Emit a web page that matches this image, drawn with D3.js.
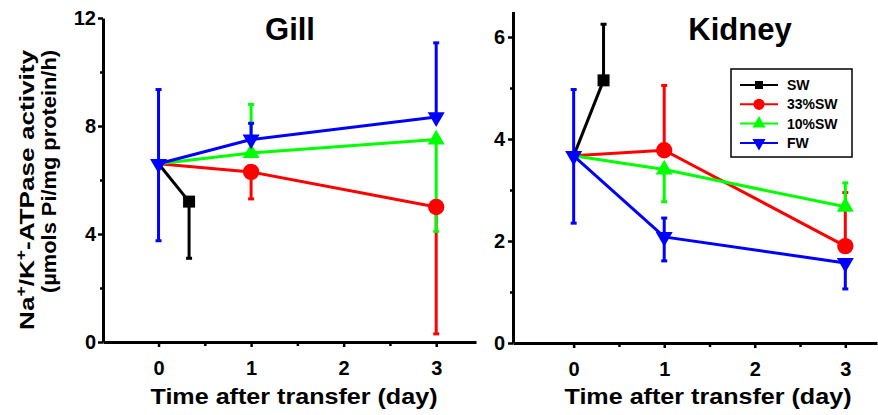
<!DOCTYPE html>
<html>
<head>
<meta charset="utf-8">
<script src="https://cdn.jsdelivr.net/npm/d3@7"></script>
<style>
  html, body { margin: 0; padding: 0; background: #fff; }
  svg { display: block; }
</style>
</head>
<body>
<svg id="chart" width="878" height="415"></svg>
<script>
// ---------- data ----------
const days = [0, 1, 3];
const swDays = [0, 0.33];
const xTickValues = [0, 1, 2, 3];
const xMinorTicks = [0.5, 1.5, 2.5];
const gillYTicks = [0, 4, 8, 12];
const gillYMinor = [2, 6, 10];
const kidneyYTicks = [0, 2, 4, 6];
const kidneyYMinor = [1, 3, 5];

const seriesNames = ["SW", "33%SW", "10%SW", "FW"];
const seriesColors = ["#000000", "#ff0000", "#00ff00", "#0000ff"];

// Gill
const gillSW = [6.6, 5.2];
const gillSWErrUp = [null, null];
const gillSWErrDown = [null, 2.1];
const gill33 = [6.6, 6.3, 5.0];
const gill33ErrUp = [null, null, null];
const gill33ErrDown = [null, 1.0, 4.7];
const gill10 = [6.6, 7.0, 7.5];
const gill10ErrUp = [null, 1.8, null];
const gill10ErrDown = [null, null, 3.4];
const gillFW = [6.6, 7.5, 8.33];
const gillFWErrUp = [2.75, 0.6, 2.75];
const gillFWErrDown = [2.85, null, null];

// Kidney
const kidneySW = [3.67, 5.15];
const kidneySWErrUp = [null, 1.1];
const kidneySWErrDown = [null, null];
const kidney33 = [3.67, 3.78, 1.9];
const kidney33ErrUp = [null, 1.27, 1.05];
const kidney33ErrDown = [null, null, null];
const kidney10 = [3.67, 3.4, 2.67];
const kidney10ErrUp = [null, null, 0.47];
const kidney10ErrDown = [null, 0.63, null];
const kidneyFW = [3.67, 2.08, 1.57];
const kidneyFWErrUp = [1.3, 0.37, null];
const kidneyFWErrDown = [1.32, 0.47, 0.51];

// ---------- drawing ----------
const svg = d3.select("#chart");
const tickFont = "'Liberation Sans', Arial, sans-serif";

const symbols = [
  {type: d3.symbolSquare, size: 144, rot: 0},
  {type: d3.symbolCircle, size: 210, rot: 0},
  {type: d3.symbolTriangle, size: 125, rot: 0},
  {type: d3.symbolTriangle, size: 125, rot: 180}
];

function buildSeries(xsList, ys, ups, downs) {
  return ys.map((ys_, i) => ({
    color: seriesColors[i],
    sym: symbols[i],
    pts: ys_.map((v, j) => ({x: xsList[i][j], y: v, up: ups[i][j], down: downs[i][j]}))
  }));
}

function panel(cfg) {
  const g = svg.append("g");
  const x = d3.scaleLinear().domain(cfg.xDomain).range(cfg.xRange);
  const y = d3.scaleLinear().domain(cfg.yDomain).range(cfg.yRange);

  // minor ticks
  g.append("g").attr("transform", `translate(0,${cfg.yRange[0]})`)
    .call(d3.axisBottom(x).tickValues(xMinorTicks).tickSize(4).tickFormat(""))
    .call(a => a.select(".domain").remove())
    .call(a => a.selectAll("line").attr("stroke-width", 2.5));
  g.append("g").attr("transform", `translate(${cfg.xRange[0]},0)`)
    .call(d3.axisLeft(y).tickValues(cfg.yMinor).tickSize(3).tickFormat(""))
    .call(a => a.select(".domain").remove())
    .call(a => a.selectAll("line").attr("stroke-width", 2.5));

  // x axis
  const xa = g.append("g").attr("transform", `translate(0,${cfg.yRange[0]})`)
    .call(d3.axisBottom(x).tickValues(xTickValues).tickSize(5).tickSizeOuter(0).tickPadding(14).tickFormat(d3.format("d")));
  xa.select(".domain").attr("stroke-width", 3);
  xa.selectAll("line").attr("stroke-width", 2.5);
  xa.selectAll("text").attr("font-family", tickFont).attr("font-weight", "bold").attr("font-size", 20).attr("fill", "#000");

  // y axis
  const ya = g.append("g").attr("transform", `translate(${cfg.xRange[0]},0)`)
    .call(d3.axisLeft(y).tickValues(cfg.yTicks).tickSize(5).tickSizeOuter(0).tickPadding(cfg.yPad).tickFormat(d3.format("d")));
  ya.select(".domain").attr("stroke-width", 3);
  ya.selectAll("line").attr("stroke-width", 2.5);
  ya.selectAll("text").attr("font-family", tickFont).attr("font-weight", "bold").attr("font-size", 20).attr("fill", "#000");

  // title
  g.append("text").attr("x", cfg.titleX).attr("y", 40).attr("text-anchor", "middle")
    .attr("font-family", tickFont).attr("font-weight", "bold").attr("font-size", 31)
    .text(cfg.title);

  // x axis title
  g.append("text").attr("x", cfg.xTitleX).attr("y", 404).attr("text-anchor", "middle")
    .attr("font-family", tickFont).attr("font-weight", "bold").attr("font-size", 22)
    .attr("textLength", 287).attr("lengthAdjust", "spacingAndGlyphs")
    .text("Time after transfer (day)");

  const line = d3.line().x(d => x(d.x)).y(d => y(d.y));
  const data = cfg.series;

  // connecting lines
  data.forEach(s => {
    g.append("path").datum(s.pts).attr("d", line)
      .attr("fill", "none").attr("stroke", s.color).attr("stroke-width", 3);
  });
  // error bars
  data.forEach(s => {
    s.pts.forEach(p => {
      [["up", 1], ["down", -1]].forEach(([k, sgn]) => {
        if (p[k] == null) return;
        const yEnd = y(p.y + sgn * p[k]);
        g.append("line").attr("x1", x(p.x)).attr("x2", x(p.x))
          .attr("y1", y(p.y)).attr("y2", yEnd)
          .attr("stroke", s.color).attr("stroke-width", 3);
        g.append("line").attr("x1", x(p.x) - 3).attr("x2", x(p.x) + 3)
          .attr("y1", yEnd).attr("y2", yEnd)
          .attr("stroke", s.color).attr("stroke-width", 3);
      });
    });
  });
  // markers
  data.forEach(s => {
    s.pts.forEach((p, j) => {
      if (j === 0 && s !== data[3]) return;
      g.append("path")
        .attr("d", d3.symbol().type(s.sym.type).size(s.sym.size)())
        .attr("transform", `translate(${x(p.x)},${y(p.y)}) rotate(${s.sym.rot})`)
        .attr("fill", s.color);
    });
  });
  return {x, y};
}

panel({
  title: "Gill", titleX: 290, xTitleX: 294,
  xDomain: [-0.6, 3.43], xRange: [103, 476],
  yDomain: [0, 12], yRange: [342, 18],
  yTicks: gillYTicks, yMinor: gillYMinor, yPad: 2,
  series: buildSeries([swDays, days, days, days],
    [gillSW, gill33, gill10, gillFW],
    [gillSWErrUp, gill33ErrUp, gill10ErrUp, gillFWErrUp],
    [gillSWErrDown, gill33ErrDown, gill10ErrDown, gillFWErrDown])
});

panel({
  title: "Kidney", titleX: 740, xTitleX: 708,
  xDomain: [-0.67, 3.35], xRange: [513, 877],
  yDomain: [0, 6.5], yRange: [343, 11.5],
  yTicks: kidneyYTicks, yMinor: kidneyYMinor, yPad: 3,
  series: buildSeries([swDays, days, days, days],
    [kidneySW, kidney33, kidney10, kidneyFW],
    [kidneySWErrUp, kidney33ErrUp, kidney10ErrUp, kidneyFWErrUp],
    [kidneySWErrDown, kidney33ErrDown, kidney10ErrDown, kidneyFWErrDown])
});

// y axis label
const yl1 = svg.append("text").attr("transform", "translate(34,50) rotate(-90)")
  .attr("text-anchor", "end").attr("font-family", tickFont).attr("font-weight", "bold").attr("font-size", 21)
  .attr("textLength", 280).attr("lengthAdjust", "spacingAndGlyphs");
yl1.append("tspan").text("Na");
yl1.append("tspan").text("+").attr("font-size", 14).attr("dy", -8);
yl1.append("tspan").text("/K").attr("dy", 8);
yl1.append("tspan").text("+").attr("font-size", 14).attr("dy", -8);
yl1.append("tspan").text("-ATPase activity").attr("dy", 8);
svg.append("text").attr("transform", "translate(56,50) rotate(-90)")
  .attr("text-anchor", "end").attr("font-family", tickFont).attr("font-weight", "bold").attr("font-size", 21)
  .attr("textLength", 243).attr("lengthAdjust", "spacingAndGlyphs")
  .text("(µmols Pi/mg protein/h)");

// legend
const lg = svg.append("g");
lg.append("rect").attr("x", 731).attr("y", 69).attr("width", 121).attr("height", 88)
  .attr("fill", "#fff").attr("stroke", "#000").attr("stroke-width", 1.5);
const legendSymbols = [
  {type: d3.symbolSquare, size: 64, rot: 0},
  {type: d3.symbolCircle, size: 100, rot: 0},
  {type: d3.symbolTriangle, size: 75, rot: 0},
  {type: d3.symbolTriangle, size: 75, rot: 180}
];
seriesNames.forEach((name, i) => {
  const yy = 85 + i * 19.3;
  lg.append("line").attr("x1", 740).attr("x2", 778).attr("y1", yy).attr("y2", yy)
    .attr("stroke", seriesColors[i]).attr("stroke-width", 2);
  lg.append("path").attr("d", d3.symbol().type(legendSymbols[i].type).size(legendSymbols[i].size)())
    .attr("transform", `translate(759,${yy}) rotate(${legendSymbols[i].rot})`)
    .attr("fill", seriesColors[i]);
  lg.append("text").attr("x", 787).attr("y", yy + 5).attr("font-family", tickFont)
    .attr("font-weight", "bold").attr("font-size", 14).attr("fill", "#000").text(name);
});
</script>
</body>
</html>
